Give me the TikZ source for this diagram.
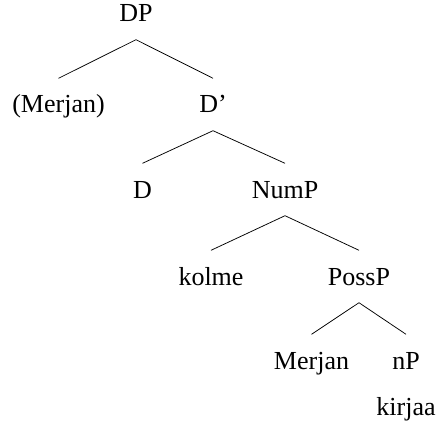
\documentclass[tikz,border=0pt]{standalone}
\usepackage{fontspec}
\setmainfont{Liberation Serif}
\begin{document}
\begin{tikzpicture}[x=1pt,y=-1pt,
  lbl/.style={anchor=base, inner xsep=0pt, inner ysep=17.5pt,
    text height=17pt, text depth=0pt,
    font=\fontsize{26}{31}\selectfont},
  branch/.style={draw=black, line width=0.75pt}]
  \useasboundingbox (0,0) rectangle (438,422);

  % labels, placed on their baselines
  \node[lbl] (dp)     at (136,22)  {DP};
  \node[lbl] (spec)   at (58.5,113) {(Merjan)};
  \node[lbl] (dbar)   at (213,113) {D’};
  \node[lbl] (d)      at (142.5,198) {D};
  \node[lbl] (nump)   at (285,198) {NumP};
  \node[lbl] (kolme)  at (211,285) {kolme};
  \node[lbl] (possp)  at (359,285) {PossP};
  \node[lbl] (poss)   at (311.5,369) {Merjan};
  \node[lbl] (np)     at (406,369) {nP};
  \node[lbl] (kirjaa) at (406,415.5) {kirjaa};

  % branches
  \draw[branch] (spec.north) -- (dp.south) -- (dbar.north);
  \draw[branch] (d.north) -- (dbar.south) -- (nump.north);
  \draw[branch] (kolme.north) -- (nump.south) -- (possp.north);
  \draw[branch] (poss.north) -- (possp.south) -- (np.north);
\end{tikzpicture}
\end{document}
